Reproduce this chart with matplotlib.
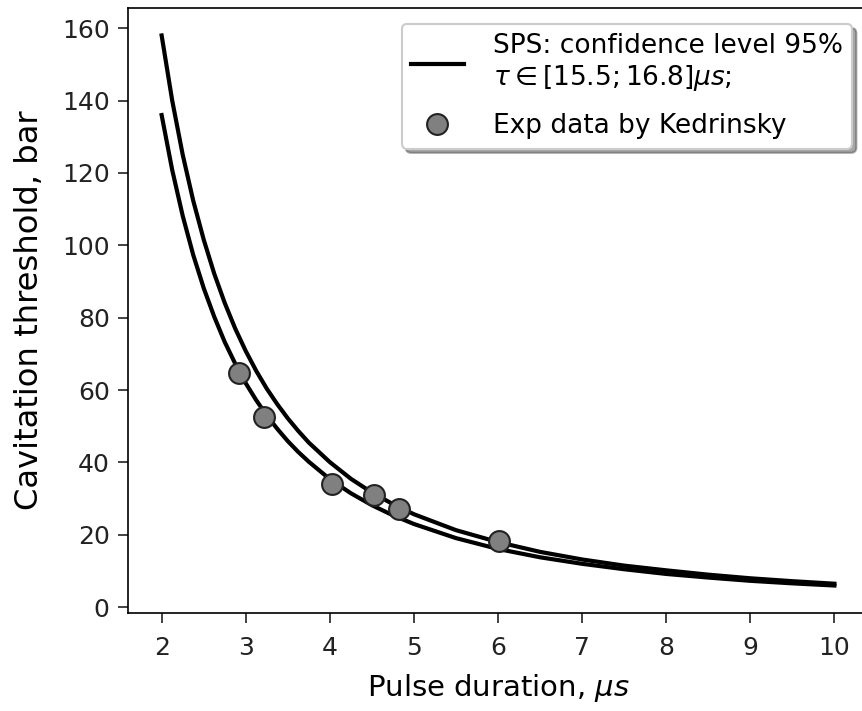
import numpy as np
from matplotlib import pyplot as plt

# pulse duration (us) and threshold (bar)
tau = [2.0, 2.125, 2.25, 2.375, 2.5, 2.625, 2.75, 2.875, 3.0, 3.125, 3.25, 3.375,
       3.5, 3.625, 3.75, 4.0, 4.25, 4.5, 4.75, 5.0, 5.5, 6.0, 6.5, 7.0, 7.5,
       8.0, 8.5, 9.0, 9.5, 10.0]
sps_low = [136.0, 120.9, 108.2, 97.4, 88.2, 80.3, 73.3, 67.3, 61.9, 57.2, 53.0, 49.3,
           45.9, 42.9, 40.2, 35.4, 31.5, 28.2, 25.4, 23.0, 19.1, 16.1, 13.8, 12.0, 10.5,
           9.2, 8.2, 7.3, 6.6, 6.0]
sps_high = [158.0, 140.1, 125.1, 112.4, 101.6, 92.2, 84.1, 77.0, 70.8, 65.3, 60.4, 56.1,
            52.2, 48.7, 45.5, 40.1, 35.5, 31.7, 28.5, 25.7, 21.3, 18.0, 15.3, 13.2, 11.5,
            10.2, 9.0, 8.0, 7.2, 6.5]

# experimental points (Kedrinsky)
exp_t = [2.92, 3.22, 4.02, 4.52, 4.82, 6.01]
exp_p = [64.8, 52.6, 34.1, 31.0, 27.1, 18.3]

fig = plt.figure(figsize=(862 / 150, 711 / 150), dpi=150)
ax = fig.add_axes([0.1485, 0.1378, 0.8585, 0.851])

ax.plot(tau, sps_high, color="black", lw=2,
        label="SPS: confidence level 95%\n$\\tau \\in [15.5; 16.8] \\mu s$;")
ax.plot(tau, sps_low, color="black", lw=2)
ax.plot(exp_t, exp_p, "o", color="gray", mec="#222222", mew=1, ms=10,
        label="Exp data by Kedrinsky")

ax.set_xlabel("Pulse duration, $\\mu s$", fontsize=14, labelpad=6)
ax.set_ylabel("Cavitation threshold, bar", fontsize=15.5, labelpad=8)
ax.set_xticks(np.arange(2, 11, 1))
ax.set_yticks(np.arange(0, 161, 20))
ax.tick_params(labelsize=12, colors="#222222", length=4.8)
ax.tick_params(axis="x", pad=6)
ax.tick_params(axis="y", pad=4)

ax.legend(loc="upper right", shadow=True, fancybox=True, framealpha=1,
          fontsize=12.7, labelspacing=0.75, handletextpad=1.1, borderpad=0.35,
          borderaxespad=0.6)

fig.savefig("out.png", dpi=150)
